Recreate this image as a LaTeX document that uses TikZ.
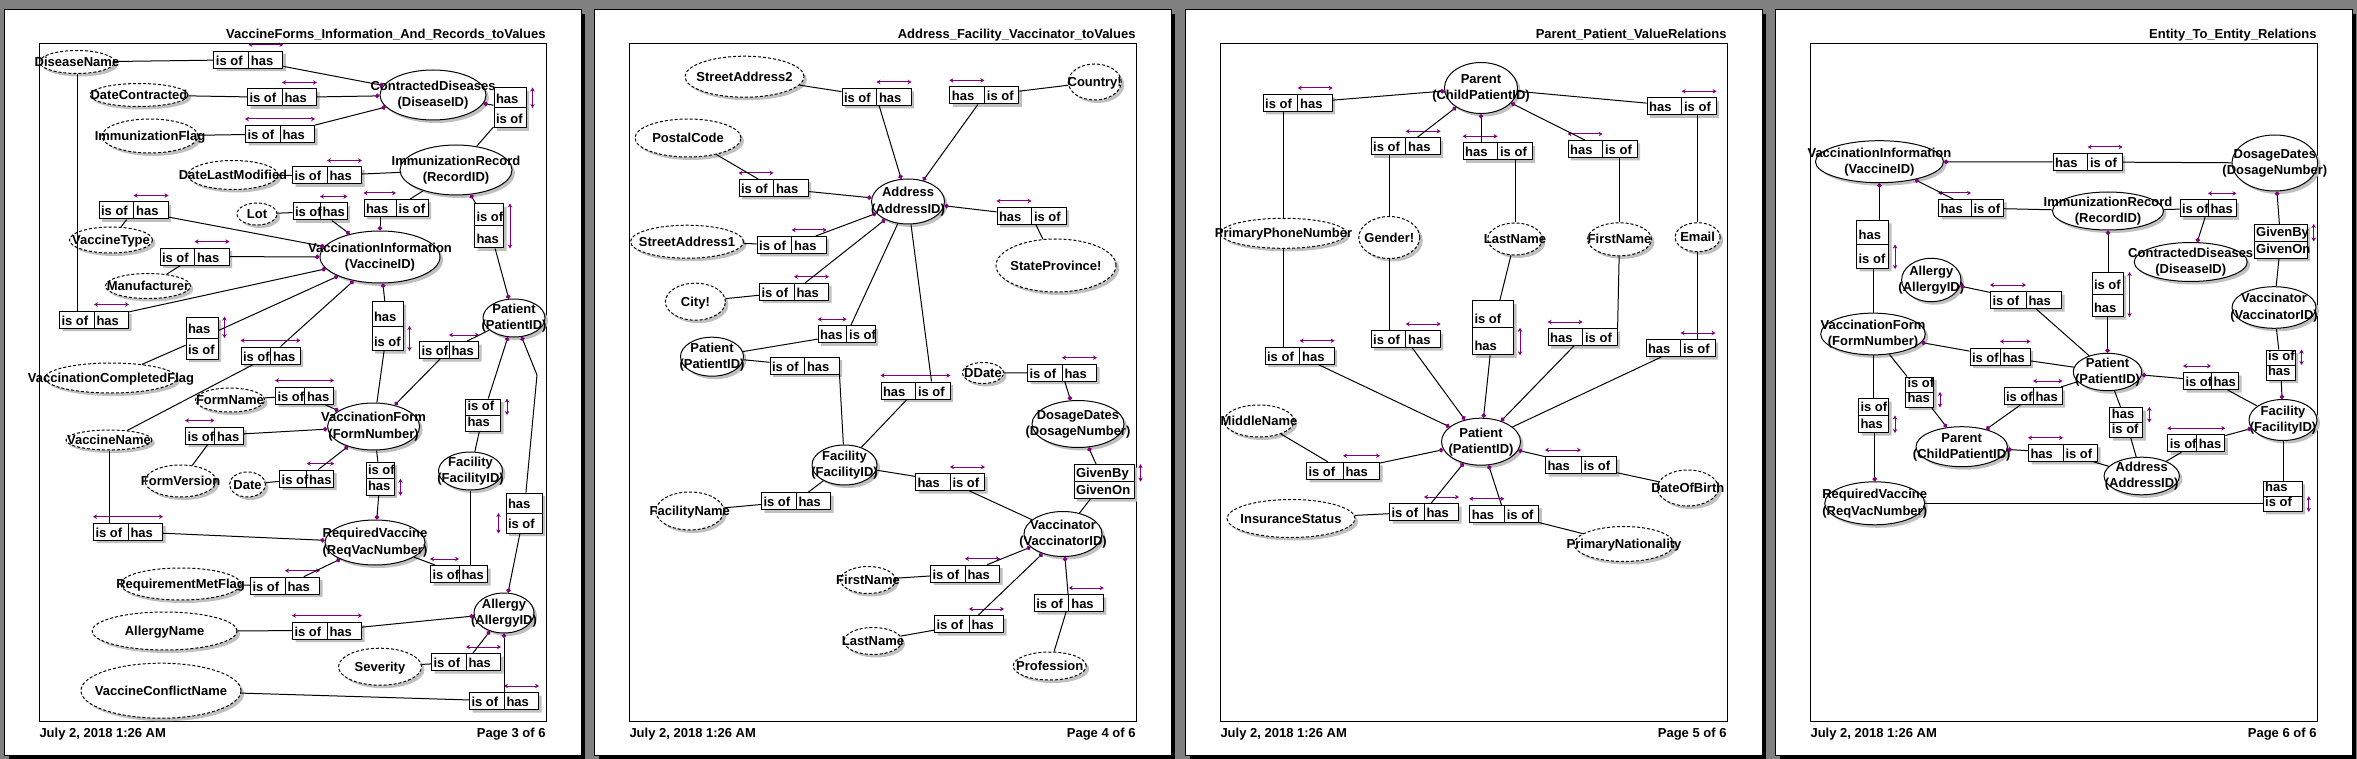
\documentclass[tikz,border=0pt]{standalone}
\usepackage{fontspec}
\setmainfont{Liberation Sans}
\usetikzlibrary{shapes.geometric, shapes.multipart, shadows, arrows.meta}

\definecolor{bg}{HTML}{808080}
\definecolor{sdc}{HTML}{C0C0C0}
\definecolor{uq}{HTML}{800080}

\newcommand{\lbl}{\fontsize{13}{16.5}\selectfont\bfseries}
% entity text (two lines) and value text, both allowed to run past the ellipse
\newcommand{\en}[2]{\makebox[0pt]{\raisebox{-3.3pt}{\begin{tabular}{@{}c@{}}#1\\#2\end{tabular}}}}
\newcommand{\vl}[1]{\makebox[0pt]{\raisebox{-4.6pt}{#1}}}
% fact boxes: cell width, texts
\newcommand{\rh}[3]{\makebox[#1][l]{\rule[-2.5pt]{0pt}{16pt}#2}\nodepart{two}\makebox[#1][l]{\rule[-2.5pt]{0pt}{16pt}#3}}
\newcommand{\rv}[4]{\makebox[#1][l]{\rule[-3.5pt]{0pt}{#2}#3}\nodepart{two}\makebox[#1][l]{\rule[-3.5pt]{0pt}{#2}#4}}
% uniqueness bars
\newcommand{\ucr}[1]{\draw[uc] ([yshift=6pt]#1.north) -- ([yshift=6pt]#1.north east);}
\newcommand{\ucl}[1]{\draw[uc] ([yshift=6pt]#1.north west) -- ([yshift=6pt]#1.north);}
\newcommand{\ucb}[1]{\draw[uc] ([yshift=6pt]#1.north west) -- ([yshift=6pt]#1.north east);}
\newcommand{\uct}[1]{\draw[uc] ([xshift=6pt]#1.north east) -- ([xshift=6pt]#1.east);}
\newcommand{\ucd}[1]{\draw[uc] ([xshift=6pt]#1.east) -- ([xshift=6pt]#1.south east);}
\newcommand{\uca}[1]{\draw[uc] ([xshift=6pt]#1.north east) -- ([xshift=6pt]#1.south east);}
\newcommand{\ucw}[1]{\draw[uc] ([xshift=-7pt]#1.west) -- ([xshift=-7pt]#1.south west);}
% one printed page
\newcommand{\sheet}[3]{%
  \fill (8.5,14) rectangle (585,758.5);
  \filldraw[fill=white] (4.5,10) rectangle (581.5,755);
  \draw (39,44) rectangle (546,721);
  \node[lab, anchor=base east] (#1t) at (546,39) {#2};
  \node[lab, anchor=base west] (#1d) at (39,737.5) {July 2, 2018 1:26 AM};
  \node[lab, anchor=base east] (#1p) at (546,737.5) {#3};
}

\tikzset{
  sdw/.style={drop shadow={shadow xshift=3pt, shadow yshift=-3pt, fill=sdc, opacity=1}},
  idmark/.style={path picture={\fill ([yshift=-1.5pt]path picture bounding box.north) -- ++(-2.5pt,-4.5pt) -- ++(5pt,0pt) -- cycle;}},
  oval/.style 2 args={ellipse, draw, fill=white, minimum width=#1, minimum height=#2, inner sep=0pt, text height=0pt, text depth=0pt, sdw},
  ent/.style 2 args={oval={#1}{#2}, idmark},
  val/.style 2 args={oval={#1}{#2}, dash pattern=on 3pt off 2pt},
  fh/.style={rectangle split, rectangle split horizontal, rectangle split parts=2, draw, fill=white, inner xsep=2pt, inner ysep=0.5pt, sdw},
  fv/.style={rectangle split, rectangle split parts=2, draw, fill=white, inner xsep=2pt, inner ysep=0.5pt, sdw},
  uc/.style={uq, {Stealth[length=4pt,width=4.5pt]}-{Stealth[length=4pt,width=4.5pt]}},
  mand/.style={{Circle[length=4.5pt,color=uq]}-},
  lab/.style={inner sep=0pt}
}

\begin{document}
\begin{tikzpicture}[x=1pt, y=-1pt, line width=1pt, every node/.style={font=\lbl}]
\useasboundingbox (0,0) rectangle (2357,759);
\fill[bg] (0,0) rectangle (2357,759);

%% page 3 of 6
\begin{scope}
\sheet{a}{VaccineForms\_Information\_And\_Records\_toValues}{Page 3 of 6}
\node[val={75pt}{23pt}] (dname) at (77,62) {\vl{DiseaseName}};
\node[val={98pt}{23pt}] (dcontr) at (139,95) {\vl{DateContracted}};
\node[val={96pt}{34pt}] (iflag) at (150,136) {\vl{ImmunizationFlag}};
\node[ent={106pt}{50pt}] (cdis) at (433,95) {\en{ContractedDiseases}{(DiseaseID)}};
\node[ent={112pt}{50pt}] (irec) at (456,170) {\en{ImmunizationRecord}{(RecordID)}};
\node[val={90pt}{29pt}] (dlm) at (233,175) {\vl{DateLastModified}};
\node[val={40pt}{22pt}] (lot) at (257,214) {\vl{Lot}};
\node[val={83pt}{26pt}] (vtype) at (111,240) {\vl{VaccineType}};
\node[ent={120pt}{52pt}] (vinfo) at (380,257) {\en{VaccinationInformation}{(VaccineID)}};
\node[val={85pt}{25pt}] (manuf) at (148,286) {\vl{Manufacturer}};
\node[val={132pt}{30pt}] (vcflag) at (111,378) {\vl{VaccinationCompletedFlag}};
\node[ent={62pt}{38pt}] (pat) at (514,318) {\en{Patient}{(PatientID)}};
\node[val={69pt}{24pt}] (fname) at (230,400) {\vl{FormName}};
\node[ent={92pt}{47pt}] (vform) at (373.6,426.5) {\en{VaccinationForm}{(FormNumber)}};
\node[val={71pt}{32pt}] (fver) at (180.6,481) {\vl{FormVersion}};
\node[val={86pt}{20pt}] (vname) at (109,440) {\vl{VaccineName}};
\node[val={36pt}{25pt}] (date) at (247.5,484.5) {\vl{Date}};
\node[ent={64pt}{38pt}] (fac) at (470.5,471) {\en{Facility}{(FacilityID)}};
\node[ent={100pt}{45pt}] (reqvac) at (375,542.5) {\en{RequiredVaccine}{(ReqVacNumber)}};
\node[val={120pt}{32pt}] (rmflag) at (180.6,584) {\vl{RequirementMetFlag}};
\node[ent={60pt}{40pt}] (allergy) at (504,613) {\en{Allergy}{(AllergyID)}};
\node[val={145pt}{38pt}] (aname) at (164.6,631) {\vl{AllergyName}};
\node[val={83pt}{37pt}] (sev) at (380,666.7) {\vl{Severity}};
\node[val={160pt}{55pt}] (vcname) at (161,690.7) {\vl{VaccineConflictName}};

\node[fh] (fa1) at (248.4,59.7) {\rh{30pt}{is of}{has}};
\node[fh] (fa2) at (282,97.5) {\rh{30pt}{is of}{has}};
\node[fh] (fa3) at (280,134) {\rh{30pt}{is of}{has}};
\node[fv] (fa4) at (510,108) {\rv{28pt}{18pt}{has}{is of}};
\node[fh] (fa5) at (327,175.5) {\rh{30pt}{is of}{has}};
\node[fh] (fa6) at (320,211.5) {\rh{22.5pt}{is of}{has}};
\node[fh] (fa7) at (396,208) {\rh{27.5pt}{has}{is of}};
\node[fv] (fa8) at (489,226) {\rv{25pt}{20pt}{is of}{has}};
\node[fh] (fa9) at (133.6,210.5) {\rh{30pt}{is of}{has}};
\node[fh] (fa10) at (194.5,256.6) {\rh{30pt}{is of}{has}};
\node[fh] (fa11) at (94,319.5) {\rh{30pt}{is of}{has}};
\node[fv] (fa12) at (202,338) {\rv{28pt}{19pt}{has}{is of}};
\node[fh] (fa13) at (270.5,355.5) {\rh{25pt}{is of}{has}};
\node[fv] (fa14) at (387.5,326) {\rv{27pt}{22.5pt}{has}{is of}};
\node[fh] (fa15) at (449,350) {\rh{25pt}{is of}{has}};
\node[fh] (fa16) at (304.5,395.5) {\rh{24.5pt}{is of}{has}};
\node[fh] (fa17) at (214.5,435.5) {\rh{24.5pt}{is of}{has}};
\node[fh] (fa18) at (306.7,478.6) {\rh{22.5pt}{is of}{has}};
\node[fv] (fa19) at (380,478.7) {\rv{24pt}{14.5pt}{is of}{has}};
\node[fv] (fa20) at (483,415) {\rv{31pt}{14pt}{is of}{has}};
\node[fv] (fa21) at (524,513) {\rv{32pt}{18pt}{has}{is of}};
\node[fh] (fa22) at (128,531.7) {\rh{30pt}{is of}{has}};
\node[fh] (fa23) at (459,574) {\rh{24pt}{is of}{has}};
\node[fh] (fa24) at (285,585.7) {\rh{30pt}{is of}{has}};
\node[fh] (fa25) at (327,630.6) {\rh{30pt}{is of}{has}};
\node[fh] (fa26) at (466,662) {\rh{30pt}{is of}{has}};
\node[fh] (fa27) at (504,701) {\rh{30pt}{is of}{has}};

\ucr{fa1} \ucr{fa2} \ucb{fa3} \uct{fa4} \ucr{fa5} \ucr{fa6} \ucl{fa7} \uca{fa8} \ucr{fa9}
\ucr{fa10} \ucr{fa11} \uct{fa12} \ucb{fa13} \ucd{fa14} \ucr{fa15} \ucb{fa16} \ucl{fa17}
\ucr{fa18} \ucd{fa19} \uct{fa20} \ucw{fa21} \ucb{fa22} \ucl{fa23} \ucr{fa24} \ucb{fa25}
\ucr{fa26} \ucr{fa27}

\draw (dname) -- (fa1); \draw[mand] (cdis) -- (fa1);
\draw (dcontr) -- (fa2); \draw[mand] (cdis) -- (fa2);
\draw (iflag) -- (fa3); \draw[mand] (cdis) -- (fa3);
\draw[mand] (cdis) -- (fa4); \draw (fa4) -- (irec);
\draw (dlm) -- (fa5); \draw (fa5) -- (irec);
\draw (lot) -- (fa6); \draw[mand] (vinfo) -- (fa6);
\draw (fa7) -- (irec); \draw[mand] (vinfo) -- (vinfo |- fa7.south);
\draw[mand] (irec) -- (fa8); \draw[mand] (pat) -- (fa8);
\draw (fa9) -- (vtype); \draw[mand] (vinfo) -- (fa9);
\draw (fa10) -- (manuf); \draw[mand] (vinfo) -- (fa10);
\draw (dname) -- (dname |- fa11.north); \draw[mand] (vinfo) -- (fa11);
\draw[mand] (vinfo) -- (fa12); \draw (fa12) -- (vcflag);
\draw[mand] (vinfo) -- (fa13); \draw (fa13) -- (vname);
\draw[mand] (vinfo) -- (fa14); \draw (fa14) -- (vform);
\draw (fa15) -- (pat); \draw[mand] (vform) -- (fa15);
\draw (fname) -- (fa16); \draw[mand] (vform) -- (fa16);
\draw[mand] (vform) -- (fa17); \draw (fa17) -- (fver);
\draw (date) -- (fa18); \draw[mand] (vform) -- (fa18);
\draw (vform) -- (fa19); \draw[mand] (reqvac) -- (fa19);
\draw[mand] (pat) -- (fa20); \draw (fa20) -- (fac);
\draw[mand] (pat) -- (537,375) -- (fa21); \draw[mand] (allergy) -- (fa21);
\draw (vname) -- (vname |- fa22.north); \draw[mand] (reqvac) -- (fa22);
\draw (reqvac) -- (fa23); \draw (fac) -- (fac |- fa23.north);
\draw (rmflag) -- (fa24); \draw[mand] (reqvac) -- (fa24);
\draw (aname) -- (fa25); \draw[mand] (allergy) -- (fa25);
\draw (sev) -- (fa26); \draw[mand] (allergy) -- (fa26);
\draw (vcname) -- (fa27); \draw[mand] (allergy) -- (fa27);
\end{scope}

%% page 4 of 6
\begin{scope}[xshift=590pt]
\sheet{b}{Address\_Facility\_Vaccinator\_toValues}{Page 4 of 6}
\node[val={119pt}{41pt}] (sa2) at (154.5,76.7) {\vl{StreetAddress2}};
\node[val={53pt}{36pt}] (country) at (504.7,82) {\vl{Country!}};
\node[val={106pt}{38pt}] (postal) at (98,138) {\vl{PostalCode}};
\node[ent={73pt}{45pt}] (addr) at (318,201.5) {\en{Address}{(AddressID)}};
\node[val={120pt}{53pt}] (state) at (466,265.5) {\vl{StateProvince!}};
\node[val={113pt}{33pt}] (sa1) at (97,241.7) {\vl{StreetAddress1}};
\node[val={60pt}{37pt}] (city) at (105.4,301.7) {\vl{City!}};
\node[ent={63pt}{39pt}] (patb) at (122,356.7) {\en{Patient}{(PatientID)}};
\node[val={41pt}{21pt}] (ddate) at (393,373) {\vl{DDate}};
\node[ent={92pt}{47pt}] (dosb) at (488,424) {\en{DosageDates}{(DosageNumber)}};
\node[ent={65pt}{40pt}] (facb) at (254.5,465) {\en{Facility}{(FacilityID)}};
\node[val={68pt}{38pt}] (facname) at (99.8,511) {\vl{FacilityName}};
\node[ent={78pt}{45pt}] (vaccb) at (473,534) {\en{Vaccinator}{(VaccinatorID)}};
\node[val={55pt}{27pt}, idmark] (firstb) at (278,580) {\vl{FirstName}};
\node[val={58pt}{27pt}, idmark] (lastb) at (283,641) {\vl{LastName}};
\node[val={73pt}{28pt}] (prof) at (459.7,666) {\vl{Profession}};

\node[fh] (fb1) at (286.5,97) {\rh{30pt}{is of}{has}};
\node[fh] (fb2) at (394.4,95.4) {\rh{30pt}{has}{is of}};
\node[fh] (fb3) at (183.5,188) {\rh{30pt}{is of}{has}};
\node[fh] (fb4) at (441.5,216) {\rh{30pt}{has}{is of}};
\node[fh] (fb5) at (201.7,245) {\rh{30pt}{is of}{has}};
\node[fh] (fb6) at (204,291.7) {\rh{30pt}{is of}{has}};
\node[fh] (fb7) at (256.7,334.3) {\rh{24pt}{has}{is of}};
\node[fh] (fb8) at (214.5,365.7) {\rh{30pt}{is of}{has}};
\node[fh] (fb9) at (325.5,390.5) {\rh{30pt}{has}{is of}};
\node[fh] (fb10) at (472,372.7) {\rh{30pt}{is of}{has}};
\node[fv] (fb11) at (514,481.7) {\rv{56pt}{15pt}{GivenBy}{GivenOn}};
\node[fh] (fb12) at (360,482) {\rh{30pt}{has}{is of}};
\node[fh] (fb13) at (206,501.3) {\rh{30pt}{is of}{has}};
\node[fh] (fb14) at (375,573.7) {\rh{30pt}{is of}{has}};
\node[fh] (fb15) at (379,624) {\rh{30pt}{is of}{has}};
\node[fh] (fb16) at (478.8,603) {\rh{30pt}{is of}{has}};

\ucr{fb1} \ucl{fb2} \ucl{fb3} \ucl{fb4} \ucr{fb5} \ucr{fb6} \ucl{fb7} \ucb{fb9}
\ucr{fb10} \uct{fb11} \ucr{fb12} \ucr{fb14} \ucr{fb15} \ucr{fb16}

\draw (sa2) -- (fb1); \draw[mand] (addr) -- (fb1);
\draw (fb2) -- (country); \draw[mand] (addr) -- (fb2);
\draw (postal) -- (fb3); \draw[mand] (addr) -- (fb3);
\draw[mand] (addr) -- (fb4); \draw (fb4) -- (state);
\draw (sa1) -- (fb5); \draw[mand] (addr) -- (fb5);
\draw (city) -- (fb6); \draw[mand] (addr) -- (fb6);
\draw (fb7) -- (patb); \draw (fb7) -- (addr);
\draw (patb) -- (fb8); \draw (fb8.south east) -- (facb);
\draw (addr) -- ([xshift=16pt]fb9.north); \draw (fb9) -- (facb);
\draw (ddate) -- (fb10); \draw[mand] (dosb) -- (fb10);
\draw[mand] (dosb) -- (fb11); \draw (fb11) -- (vaccb);
\draw (facb) -- (fb12); \draw (fb12) -- (vaccb);
\draw (facname) -- (fb13); \draw (fb13) -- (facb);
\draw (firstb) -- (fb14); \draw[mand] (vaccb) -- (fb14);
\draw (lastb) -- (fb15); \draw[mand] (vaccb) -- (fb15);
\draw[mand] (vaccb) -- (fb16); \draw (fb16) -- (prof);
\end{scope}

%% page 5 of 6
\begin{scope}[xshift=1181pt]
\sheet{c}{Parent\_Patient\_ValueRelations}{Page 5 of 6}
\node[ent={73pt}{51pt}] (parent) at (300,88) {\en{Parent}{(ChildPatientID)}};
\node[val={126pt}{30pt}] (ppn) at (102.5,233.3) {\vl{PrimaryPhoneNumber}};
\node[val={61pt}{42pt}] (gender) at (208.3,237.5) {\vl{Gender!}};
\node[val={54.5pt}{32pt}, idmark] (lastc) at (334,239) {\vl{LastName}};
\node[val={64pt}{33pt}, idmark] (firstc) at (438.5,239.3) {\vl{FirstName}};
\node[val={45pt}{29pt}] (email) at (516.6,237.2) {\vl{Email}};
\node[ent={79pt}{47pt}] (patc) at (300,441.7) {\en{Patient}{(PatientID)}};
\node[val={70pt}{32pt}] (middle) at (78,421) {\vl{MiddleName}};
\node[val={128pt}{38pt}] (ins) at (110,518.5) {\vl{InsuranceStatus}};
\node[val={61pt}{36pt}] (dob) at (506.8,488) {\vl{DateOfBirth}};
\node[val={100pt}{35pt}] (pnat) at (443,544) {\vl{PrimaryNationality}};

\node[fh] (fc1) at (116.7,103) {\rh{30pt}{is of}{has}};
\node[fh] (fc2) at (500.6,106.3) {\rh{30pt}{has}{is of}};
\node[fh] (fc3) at (224.7,146.3) {\rh{30pt}{is of}{has}};
\node[fh] (fc4) at (316.6,151.3) {\rh{30pt}{has}{is of}};
\node[fh] (fc5) at (421.6,149) {\rh{30pt}{has}{is of}};
\node[fh] (fc6) at (118.6,355.7) {\rh{30pt}{is of}{has}};
\node[fh] (fc7) at (224.7,339) {\rh{30pt}{is of}{has}};
\node[fv] (fc8) at (312,327.8) {\rv{37pt}{25pt}{is of}{has}};
\node[fh] (fc9) at (401.6,337) {\rh{30pt}{has}{is of}};
\node[fh] (fc10) at (499.5,348) {\rh{30pt}{has}{is of}};
\node[fh] (fc11) at (162,470.8) {\rh{32pt}{is of}{has}};
\node[fh] (fc12) at (243,512) {\rh{30pt}{is of}{has}};
\node[fh] (fc13) at (400,465) {\rh{31pt}{has}{is of}};
\node[fh] (fc14) at (323.3,513.8) {\rh{30pt}{has}{is of}};

\ucr{fc1} \ucr{fc2} \ucr{fc3} \ucl{fc4} \ucl{fc5} \ucr{fc6} \ucr{fc7} \ucd{fc8}
\ucl{fc9} \ucr{fc10} \ucr{fc11} \ucr{fc12} \ucl{fc13} \ucl{fc14}

\draw[mand] (parent) -- (fc1); \draw (ppn) -- (ppn |- fc1.south);
\draw (parent) -- (fc2); \draw (email) -- (email |- fc2.south);
\draw[mand] (parent) -- (fc3); \draw (gender) -- (gender |- fc3.south);
\draw[mand] (parent) -- (parent |- fc4.north); \draw (lastc) -- (lastc |- fc4.south);
\draw[mand] (parent) -- (fc5); \draw (firstc) -- (firstc |- fc5.south);
\draw (ppn) -- (ppn |- fc6.north); \draw[mand] (patc) -- (fc6);
\draw (gender) -- (gender |- fc7.north); \draw[mand] (patc) -- (fc7);
\draw (lastc) -- (fc8); \draw[mand] (patc) -- (fc8);
\draw (firstc) -- (fc9.north east); \draw[mand] (patc) -- (fc9);
\draw (email) -- (email |- fc10.north); \draw (patc) -- (fc10);
\draw (middle) -- (fc11); \draw[mand] (patc) -- (fc11);
\draw (ins) -- (fc12); \draw[mand] (patc) -- (fc12);
\draw[mand] (patc) -- (fc13); \draw (fc13) -- (dob);
\draw[mand] (patc) -- (fc14); \draw (fc14) -- (pnat);
\end{scope}

%% page 6 of 6
\begin{scope}[xshift=1771pt]
\sheet{d}{Entity\_To\_Entity\_Relations}{Page 6 of 6}
\node[ent={128pt}{42pt}] (vinfod) at (108.4,161.7) {\en{VaccinationInformation}{(VaccineID)}};
\node[ent={85.5pt}{56pt}] (dosd) at (503.8,163) {\en{DosageDates}{(DosageNumber)}};
\node[ent={111pt}{38pt}] (irecd) at (337,211) {\en{ImmunizationRecord}{(RecordID)}};
\node[ent={113pt}{39pt}] (cdisd) at (419.7,262) {\en{ContractedDiseases}{(DiseaseID)}};
\node[ent={59.4pt}{43.4pt}] (allergyd) at (160.3,280) {\en{Allergy}{(AllergyID)}};
\node[ent={84pt}{41.6pt}] (vaccd) at (503,307.5) {\en{Vaccinator}{(VaccinatorID)}};
\node[ent={104.6pt}{41.7pt}] (vformd) at (102,334) {\en{VaccinationForm}{(FormNumber)}};
\node[ent={68.5pt}{37.4pt}] (patd) at (336.5,372) {\en{Patient}{(PatientID)}};
\node[ent={91.4pt}{40pt}] (parentd) at (190.7,446.7) {\en{Parent}{(ChildPatientID)}};
\node[ent={75.3pt}{37.6pt}] (addrd) at (370.7,476) {\en{Address}{(AddressID)}};
\node[ent={68pt}{41pt}] (facd) at (512,420) {\en{Facility}{(FacilityID)}};
\node[ent={100pt}{43pt}] (reqd) at (103.7,503.3) {\en{RequiredVaccine}{(ReqVacNumber)}};

\node[fh] (fd1) at (316.6,162) {\rh{30pt}{has}{is of}};
\node[fh] (fd2) at (200,208) {\rh{28pt}{has}{is of}};
\node[fh] (fd3) at (437,208.4) {\rh{23.5pt}{is of}{has}};
\node[fv] (fd4) at (509.7,241.5) {\rv{49pt}{15pt}{GivenBy}{GivenOn}};
\node[fv] (fd5) at (101.6,244.5) {\rv{28pt}{22pt}{has}{is of}};
\node[fh] (fd6) at (255,300) {\rh{31pt}{is of}{has}};
\node[fv] (fd7) at (336.5,294.5) {\rv{27pt}{20pt}{is of}{has}};
\node[fv] (fd8) at (509.5,365) {\rv{25pt}{13pt}{is of}{has}};
\node[fh] (fd9) at (229,356.5) {\rh{25.5pt}{is of}{has}};
\node[fh] (fd10) at (440,381) {\rh{23pt}{is of}{has}};
\node[fv] (fd11) at (148.5,392) {\rv{24pt}{13pt}{is of}{has}};
\node[fv] (fd12) at (102.5,415.5) {\rv{26pt}{15pt}{is of}{has}};
\node[fh] (fd13) at (262,396) {\rh{24.5pt}{is of}{has}};
\node[fv] (fd14) at (355.3,422.5) {\rv{29pt}{13pt}{has}{is of}};
\node[fh] (fd15) at (292,452.8) {\rh{30pt}{has}{is of}};
\node[fh] (fd16) at (425.3,443.3) {\rh{24pt}{is of}{has}};
\node[fv] (fd17) at (511.7,496.3) {\rv{35pt}{13pt}{has}{is of}};

\ucr{fd1} \ucl{fd2} \ucr{fd3} \uct{fd4} \ucd{fd5} \ucl{fd6} \uca{fd7} \uct{fd8} \ucr{fd9}
\ucl{fd10} \ucd{fd11} \ucd{fd12} \ucr{fd13} \uct{fd14} \ucl{fd15} \ucb{fd16} \ucd{fd17}

\draw[mand] (vinfod) -- (fd1); \draw (fd1) -- (dosd);
\draw[mand] (vinfod) -- (fd2); \draw (fd2) -- (irecd);
\draw (irecd) -- (fd3); \draw[mand] (cdisd) -- (fd3);
\draw[mand] (dosd) -- (fd4); \draw (fd4) -- (vaccd);
\draw[mand] (vinfod) -- (vinfod |- fd5.north); \draw (vformd) -- (vformd |- fd5.south);
\draw[mand] (allergyd) -- (fd6); \draw (fd6) -- (patd);
\draw[mand] (irecd) -- (irecd |- fd7.north); \draw[mand] (patd) -- (patd |- fd7.south);
\draw (vaccd) -- (fd8); \draw[mand] (facd) -- (fd8);
\draw[mand] (vformd) -- (fd9); \draw (fd9) -- (patd);
\draw[mand] (patd) -- (fd10); \draw (fd10) -- (facd);
\draw (vformd) -- (fd11); \draw[mand] (parentd) -- (fd11);
\draw (vformd) -- (vformd |- fd12.north); \draw[mand] (reqd) -- (reqd |- fd12.south);
\draw[mand] (parentd) -- (fd13); \draw (fd13) -- (patd);
\draw (patd) -- (fd14); \draw (fd14) -- (addrd);
\draw[mand] (parentd) -- (fd15); \draw (fd15) -- (addrd);
\draw (addrd) -- (fd16); \draw[mand] (facd) -- (fd16);
\draw (facd) -- (facd |- fd17.north); \draw (reqd) -- (reqd -| fd17.west);
\end{scope}
\end{tikzpicture}
\end{document}
